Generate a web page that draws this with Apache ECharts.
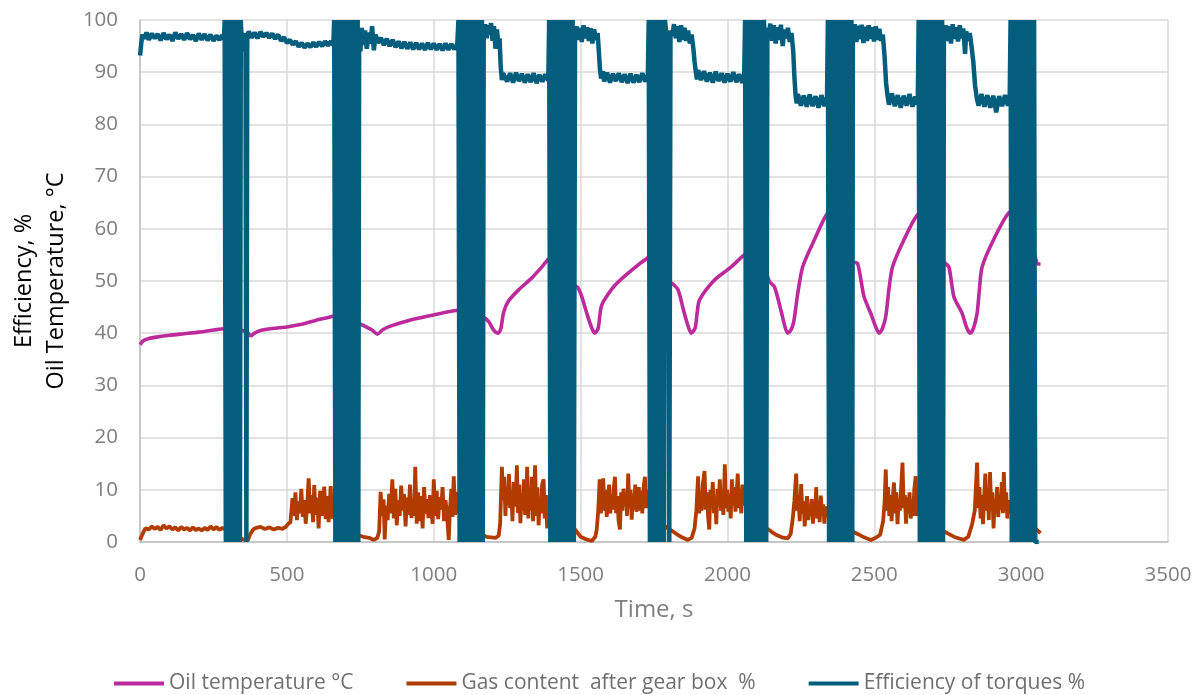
<!DOCTYPE html>
<html>
<head>
<meta charset="utf-8">
<title>Efficiency, oil temperature and gas content</title>
<script src="https://cdn.jsdelivr.net/npm/echarts@6/dist/echarts.min.js"></script>
<style>
    html, body { margin: 0; padding: 0; background: #fff; }
    #chart { width: 1199px; height: 695px; }
</style>
</head>
<body>
<div id="chart"></div>
<script>
// readings as [time s, value]
const oilTemp = [
    [0,37.8],[10,38.5],[25,38.9],[50,39.2],[100,39.6],[150,39.9],[200,40.2],[250,40.6],[288,40.9],[320,41.0],
    [350,40.5],[365,40.2],[377,39.5],[390,40.0],[410,40.5],[450,40.9],[500,41.2],[550,41.7],[600,42.5],[640,43.0],
    [661,43.3],[700,43.3],[735,42.2],[770,41.2],[790,40.6],[808,39.8],[825,40.6],[850,41.3],[900,42.2],[950,42.9],
    [1000,43.5],[1050,44.1],[1083,44.4],[1120,44.5],[1167,43.2],[1187,42.2],[1204,40.6],[1219,40.0],[1228,40.8],[1238,44.0],
    [1255,46.2],[1289,48.3],[1334,50.6],[1365,52.5],[1395,54.4],[1440,55.5],[1478,49.2],[1490,48.8],[1504,47.0],[1520,44.0],
    [1538,41.0],[1549,40.0],[1560,41.0],[1568,44.5],[1577,46.0],[1617,49.2],[1674,52.1],[1730,54.5],[1760,55.5],[1800,50.0],
    [1815,49.4],[1832,48.3],[1850,44.5],[1865,41.5],[1877,40.0],[1890,41.0],[1897,44.0],[1905,46.4],[1956,50.2],[2013,52.7],
    [2064,55.3],[2100,56.0],[2143,49.9],[2160,48.9],[2182,44.4],[2196,41.2],[2205,40.0],[2215,40.5],[2225,42.0],[2233,45.0],
    [2239,47.5],[2256,52.7],[2296,57.9],[2341,63.0],[2380,64.0],[2426,53.7],[2443,53.4],[2465,47.0],[2488,43.8],[2505,41.2],
    [2516,40.0],[2527,40.8],[2539,43.2],[2550,48.5],[2562,52.7],[2601,57.9],[2646,62.6],[2690,64.0],[2737,53.7],[2754,52.7],
    [2771,47.0],[2799,43.8],[2815,41.0],[2827,40.0],[2838,41.0],[2850,43.8],[2858,48.5],[2867,52.7],[2906,57.9],[2957,63.0],
    [3000,64.0],[3054,53.4],[3066,53.2]
];

const gasContent = [
    [0,0.4],[8,1.5],[18,2.6],[30,2.4],[40,3.0],[50,2.5],[60,2.9],[70,2.3],[80,3.2],[90,2.6],[100,3.0],[110,2.4],[120,2.8],
    [130,2.2],[140,2.9],[150,2.4],[160,2.7],[170,2.2],[180,2.8],[190,2.3],[200,2.6],[210,2.2],[220,2.7],[230,2.3],[240,3.0],
    [250,2.4],[260,2.9],[270,2.3],[280,2.7],[288,2.5],[320,1.5],[350,0.5],[367,0.3],[375,1.5],[385,2.4],[395,2.7],[410,2.9],
    [425,2.5],[440,2.8],[455,2.4],[470,2.7],[485,2.5],[496,2.9],[505,3.5],[512,3.8],
    [519,8.4],[524,5.0],[529,9.5],[534,4.2],[539,7.8],[544,5.5],[549,10.2],[554,4.8],[559,8.0],[564,3.5],[569,7.0],[574,12.2],
    [579,5.5],[584,9.0],[589,3.8],[593,10.9],[598,5.2],[603,8.5],[608,2.6],[613,9.8],[618,5.0],[623,7.6],[627,10.6],[632,4.4],
    [637,8.8],[642,3.8],[646,7.5],[649,10.7],[654,4.5],[658,6.5],[661,5.0],
    [700,3.0],[743,1.3],[760,1.0],[780,0.8],[796,0.4],[808,0.8],[814,2.0],
    [819,9.6],[824,5.0],[829,8.2],[833,0.5],[838,7.0],[843,4.2],[848,9.2],[853,5.5],[859,12.0],[864,4.5],[869,10.2],[874,3.2],
    [879,8.0],[884,5.0],[889,10.8],[894,6.0],[899,9.2],[904,3.0],[909,8.5],[914,5.2],[919,11.0],[924,4.6],[929,7.8],[933,5.0],
    [937,14.4],[942,3.5],[947,9.5],[952,4.0],[957,8.8],[962,2.6],[967,10.5],[972,5.4],[977,8.2],[982,4.6],[987,9.0],[992,6.0],
    [996,3.5],[1000,12.0],[1005,5.0],[1010,9.8],[1015,4.4],[1020,8.6],[1025,6.2],[1030,10.5],[1035,4.0],[1040,8.0],[1045,5.5],
    [1051,0.4],[1055,6.0],[1060,10.2],[1064,4.8],[1068,12.6],[1073,5.2],[1078,9.6],[1083,6.0],
    [1120,3.0],[1167,1.3],[1180,1.0],[1195,0.9],[1210,0.8],[1221,1.2],[1226,3.5],
    [1232,14.4],[1236,8.0],[1240,12.5],[1244,5.0],[1248,10.5],[1252,7.0],[1256,13.0],[1260,6.5],[1264,9.8],[1268,4.0],[1272,11.5],
    [1276,6.8],[1280,9.5],[1283,14.7],[1287,5.5],[1291,11.0],[1295,3.6],[1299,9.0],[1303,6.0],[1307,12.0],[1311,5.2],[1315,8.5],
    [1318,14.4],[1322,4.5],[1326,10.0],[1330,6.0],[1334,12.5],[1338,4.0],[1342,9.5],[1345,14.7],[1349,5.0],[1353,10.5],[1357,3.2],
    [1361,8.5],[1365,5.5],[1369,11.0],[1374,12.0],[1378,4.5],[1382,9.0],[1386,2.6],[1390,7.5],
    [1420,3.0],[1481,2.4],[1500,1.0],[1520,0.5],[1538,0.2],[1550,1.0],[1555,2.4],[1560,6.0],
    [1565,12.0],[1569,5.5],[1573,9.5],[1577,12.2],[1581,6.0],[1585,10.0],[1589,4.8],[1593,8.2],[1597,11.0],[1601,5.5],[1605,9.0],
    [1609,6.2],[1613,10.5],[1617,12.5],[1621,5.5],[1625,8.8],[1629,4.2],[1634,2.4],[1638,9.5],[1642,6.0],[1646,10.2],[1650,7.0],
    [1654,9.0],[1658,5.0],[1662,13.1],[1666,6.5],[1670,10.0],[1674,4.3],[1678,9.2],[1682,6.2],[1686,11.0],[1690,5.8],[1694,8.5],
    [1698,10.5],[1702,6.0],[1706,9.8],[1710,5.5],[1714,10.2],[1719,12.5],[1723,6.5],[1727,10.0],[1731,7.0],
    [1760,4.0],[1815,2.0],[1830,1.4],[1845,0.9],[1865,0.4],[1878,0.8],[1888,2.6],[1894,6.0],
    [1900,12.6],[1904,5.5],[1908,9.0],[1912,6.0],[1916,11.0],[1922,13.6],[1926,6.2],[1930,9.5],[1934,5.0],[1938,2.4],[1942,10.0],
    [1946,6.5],[1950,11.5],[1954,5.5],[1958,8.5],[1962,3.4],[1966,10.2],[1970,7.0],[1974,12.0],[1978,6.0],[1982,9.5],[1986,5.2],
    [1991,14.9],[1995,6.5],[1999,10.0],[2003,5.8],[2007,9.0],[2011,4.5],[2015,12.0],[2019,7.0],[2023,10.5],[2027,5.8],[2031,9.0],
    [2035,13.1],[2039,6.5],[2043,10.2],[2047,5.5],[2051,11.0],[2055,7.0],[2059,9.5],
    [2100,4.0],[2149,2.0],[2165,1.4],[2185,0.9],[2205,0.7],[2215,1.5],[2222,4.3],[2228,8.0],
    [2234,13.1],[2238,6.0],[2242,8.5],[2246,4.0],[2251,11.1],[2255,5.5],[2259,7.8],[2263,3.0],[2267,6.5],[2271,8.8],[2275,4.2],
    [2279,7.0],[2283,5.0],[2287,8.2],[2291,3.5],[2295,6.8],[2299,5.0],[2302,10.5],[2306,4.5],[2310,7.8],[2314,3.8],[2318,8.9],
    [2322,5.0],[2326,7.2],[2330,3.5],[2334,6.8],[2338,4.8],[2342,6.0],
    [2380,3.0],[2426,2.0],[2445,1.5],[2465,0.9],[2488,0.4],[2505,0.8],[2520,1.4],[2530,4.0],[2535,7.6],
    [2539,13.9],[2543,6.0],[2547,10.5],[2551,5.0],[2555,9.0],[2559,4.0],[2563,8.5],[2567,11.4],[2571,5.5],[2575,9.5],[2579,3.4],
    [2583,8.0],[2587,6.0],[2591,10.0],[2596,15.2],[2600,6.5],[2604,9.0],[2608,3.5],[2612,8.5],[2616,5.5],[2620,9.5],[2624,4.5],
    [2628,8.0],[2632,5.0],[2636,10.0],[2641,12.6],[2645,5.0],[2649,8.5],
    [2690,3.0],[2737,2.0],[2755,1.5],[2775,0.9],[2805,0.4],[2820,1.0],[2833,3.4],[2842,6.0],
    [2850,15.2],[2854,6.5],[2858,10.5],[2862,4.5],[2866,9.0],[2870,3.4],[2874,8.5],[2878,13.1],[2882,6.0],[2886,10.0],[2890,4.2],
    [2894,13.4],[2898,6.5],[2902,9.5],[2906,2.6],[2910,8.0],[2914,5.5],[2918,10.5],[2922,4.8],[2926,9.0],[2930,6.2],[2934,11.5],
    [2938,5.5],[2941,13.4],[2945,6.0],[2949,9.5],[2953,4.5],[2957,8.0],[2961,5.5],[2964,7.0],
    [3000,4.0],[3054,2.3],[3066,1.7]
];

// efficiency between the test runs
const effSteady = [
    [0,93.2],[4,95.5],[8,97.2],[14,96.4],[22,97.6],[30,96.2],[40,97.4],[50,96.5],[60,97.3],[70,96.1],[80,97.5],[90,96.3],
    [100,97.2],[110,96.0],[120,97.6],[130,96.4],[140,97.3],[150,96.2],[160,97.5],[170,96.3],[180,97.1],[190,96.0],[200,97.4],
    [210,96.2],[220,97.3],[230,96.1],[240,97.2],[250,96.0],[260,97.0],[270,96.2],[280,97.1],[286,96.3],
    [345,97.0],[350,94.0],[355,97.5],[359,96.5],[362,0],[365,97.0],[370,97.8],[380,96.6],[390,97.6],[400,96.5],[410,97.7],
    [420,96.8],[430,97.5],[440,96.6],[450,97.4],[460,96.4],[470,97.2],[480,96.0],[490,96.7],[500,95.6],[510,96.2],[520,95.3],
    [530,95.9],[540,94.9],[550,95.6],[560,94.7],[570,95.5],[580,94.8],[590,95.7],[600,94.9],[610,95.8],[620,95.0],[630,95.9],
    [640,95.1],[650,95.9],[658,95.2],
    [746,97.5],[750,94.0],[755,98.5],[760,95.2],[766,98.0],[772,94.5],[778,97.6],[785,95.5],[790,98.8],[796,94.2],[802,97.2],
    [810,95.6],[820,96.6],[830,95.2],[840,96.4],[850,95.0],[860,96.2],[870,94.8],[880,95.9],[890,94.6],[900,95.8],[910,94.5],
    [920,95.7],[930,94.4],[940,95.6],[950,94.4],[960,95.5],[970,94.3],[980,95.6],[990,94.4],[1000,95.5],[1010,94.3],[1020,95.4],
    [1030,94.2],[1040,95.5],[1050,94.3],[1060,95.4],[1070,94.4],[1080,95.3],
    [1170,97.0],[1175,99.2],[1180,96.5],[1185,99.0],[1190,97.2],[1195,99.4],[1200,96.0],[1205,98.8],[1210,94.5],[1215,98.2],
    [1220,95.5],[1224,96.5],[1228,91.0],[1232,88.5],[1236,89.8],[1240,90.0],[1250,88.2],[1260,89.8],[1270,88.0],[1280,89.9],
    [1290,88.3],[1300,89.7],[1310,88.0],[1320,89.6],[1330,88.1],[1340,89.8],[1350,87.9],[1360,89.5],[1370,88.2],[1380,89.6],
    [1390,88.4],
    [1481,96.0],[1486,98.8],[1492,96.2],[1498,98.5],[1504,95.8],[1510,99.0],[1516,96.5],[1522,98.6],[1528,96.0],[1534,98.4],
    [1540,95.5],[1546,98.2],[1552,96.2],[1558,97.5],[1562,94.0],[1566,90.5],[1570,88.8],[1576,90.2],[1580,88.2],[1590,89.9],
    [1600,88.0],[1610,89.7],[1620,88.3],[1630,89.8],[1640,88.1],[1650,89.6],[1660,87.9],[1670,89.7],[1680,88.0],[1690,89.5],
    [1700,88.1],[1710,89.8],[1720,88.2],[1729,89.5],
    [1792,97.5],[1798,96.8],[1802,0],[1806,98.0],[1812,97.0],[1818,99.2],[1824,96.5],[1830,98.8],[1836,95.8],[1842,99.0],
    [1848,96.2],[1854,98.5],[1860,96.0],[1866,98.0],[1872,95.5],[1878,97.2],[1884,94.5],[1888,92.0],[1892,90.2],[1896,88.6],
    [1900,90.4],[1910,88.5],[1920,90.2],[1930,88.2],[1940,89.9],[1950,88.0],[1960,90.1],[1970,88.3],[1980,89.8],[1990,88.0],
    [2000,89.7],[2010,88.2],[2020,90.0],[2030,88.1],[2040,89.6],[2050,88.0],[2057,89.4],
    [2127,97.0],[2132,0],[2136,98.5],[2140,97.0],[2146,99.3],[2152,96.0],[2158,99.0],[2164,95.5],[2170,98.6],[2176,96.2],
    [2182,99.1],[2188,95.0],[2194,98.2],[2200,96.5],[2206,98.5],[2212,95.8],[2218,97.5],[2224,94.0],[2228,89.0],[2232,85.5],
    [2236,84.0],[2240,85.8],[2250,83.6],[2260,85.5],[2270,83.4],[2280,85.7],[2290,83.5],[2300,85.4],[2310,83.2],[2320,85.6],
    [2330,83.5],[2339,85.2],
    [2427,96.5],[2433,99.2],[2439,95.8],[2445,98.9],[2451,96.3],[2457,99.1],[2463,95.6],[2469,98.7],[2475,96.0],[2481,99.0],
    [2487,96.4],[2493,98.6],[2499,95.9],[2505,98.8],[2511,96.2],[2517,98.3],[2523,96.0],[2529,97.2],[2535,93.0],[2540,88.0],
    [2545,85.5],[2550,83.8],[2560,85.9],[2570,83.5],[2580,85.6],[2590,83.2],[2600,85.5],[2610,83.6],[2620,85.8],[2630,83.4],
    [2640,85.3],[2648,83.8],
    [2737,96.8],[2743,99.0],[2749,96.0],[2755,98.8],[2761,95.5],[2767,99.2],[2773,96.4],[2779,98.6],[2785,95.9],[2791,99.0],
    [2797,96.5],[2803,98.4],[2809,93.5],[2813,97.8],[2819,96.0],[2825,97.5],[2831,95.0],[2837,92.0],[2843,87.5],[2849,85.0],
    [2855,83.6],[2865,85.8],[2875,83.4],[2885,85.6],[2895,83.2],[2905,85.5],[2915,82.3],[2925,85.4],[2935,83.5],[2945,85.6],
    [2955,83.6],[2961,85.0],
    [3060,0]
];

// efficiency during the runs, swinging between 0 and 100
const effBands = [
    [288,100],[292,0],[296,100],[300,0],[304,100],[308,0],[312,100],[316,0],[320,100],[324,0],[328,100],[332,0],[336,100],[340,0],[343,100],
    [661,100],[665,0],[669,100],[673,0],[677,100],[681,0],[685,100],[689,0],[693,100],[697,0],[701,100],[705,0],[709,100],[713,0],
    [717,100],[721,0],[725,100],[729,0],[733,100],[737,0],[741,100],[743,0],
    [1084,100],[1088,0],[1092,100],[1096,0],[1100,100],[1104,0],[1108,100],[1112,0],[1116,100],[1120,0],[1124,100],[1128,0],
    [1132,100],[1136,0],[1140,100],[1144,0],[1148,100],[1152,0],[1156,100],[1160,0],[1164,100],[1167,0],
    [1393,100],[1397,0],[1401,100],[1405,0],[1409,100],[1413,0],[1417,100],[1421,0],[1425,100],[1429,0],[1433,100],[1437,0],
    [1441,100],[1445,0],[1449,100],[1453,0],[1457,100],[1461,0],[1465,100],[1469,0],[1473,100],[1477,0],
    [1732,100],[1736,0],[1740,100],[1744,0],[1748,100],[1752,0],[1756,100],[1760,0],[1764,100],[1768,0],[1772,100],[1776,0],
    [1780,100],[1784,0],[1787,100],
    [2060,100],[2064,0],[2068,100],[2072,0],[2076,100],[2080,0],[2084,100],[2088,0],[2092,100],[2096,0],[2100,100],[2104,0],
    [2108,100],[2112,0],[2116,100],[2120,0],[2124,100],
    [2342,100],[2346,0],[2350,100],[2354,0],[2358,100],[2362,0],[2366,100],[2370,0],[2374,100],[2378,0],[2382,100],[2386,0],
    [2390,100],[2394,0],[2398,100],[2402,0],[2406,100],[2410,0],[2414,100],[2418,0],[2422,100],[2425,0],
    [2651,100],[2655,0],[2659,100],[2663,0],[2667,100],[2671,0],[2675,100],[2679,0],[2683,100],[2687,0],[2691,100],[2695,0],
    [2699,100],[2703,0],[2707,100],[2711,0],[2715,100],[2719,0],[2723,100],[2727,0],[2731,100],[2734,0],
    [2964,100],[2968,0],[2972,100],[2976,0],[2980,100],[2984,0],[2988,100],[2992,0],[2996,100],[3000,0],[3004,100],[3008,0],
    [3012,100],[3016,0],[3020,100],[3024,0],[3028,100],[3032,0],[3036,100],[3040,0],[3044,100],[3048,0]
];

const seriesNames = ["Oil temperature °C", "Gas content  after gear box  %", "Efficiency of torques %"];
const seriesColors = ["#BC2A9C", "#B23C00", "#035E7E"];

// merge the two parts of the efficiency record in time order
const efficiency = effSteady.concat(effBands).sort((a, b) => a[0] - b[0]);

const fontName = "Open Sans";
const grey = "#7f7f7f";

let chart = echarts.init(document.getElementById("chart"));

let option = {
    animation: false,
    backgroundColor: "#fff",
    grid: { left: 137, right: 31, top: 20, bottom: 153, containLabel: false },
    legend: {
        bottom: 1,
        left: "center",
        padding: 0,
        icon: "rect",
        itemWidth: 50,
        itemHeight: 4,
        itemGap: 53,
        textStyle: { fontFamily: fontName, fontSize: 21, color: "#6f6f6f" },
        data: seriesNames
    },
    xAxis: {
        type: "value",
        min: 0,
        max: 3500,
        interval: 500,
        name: "Time, s",
        nameLocation: "middle",
        nameGap: 56,
        nameTextStyle: { fontFamily: fontName, fontSize: 24, color: grey },
        axisLine: { show: true, lineStyle: { color: "#bfbfbf", width: 1.5 } },
        axisTick: { show: false },
        axisLabel: {
            margin: 23,
            fontFamily: fontName,
            fontSize: 20.5,
            color: grey,
            formatter: v => String(v)
        },
        splitLine: { show: true, lineStyle: { color: "#d9d9d9", width: 1.5 } }
    },
    yAxis: {
        type: "value",
        min: 0,
        max: 100,
        interval: 10,
        name: "Efficiency, %\nOil Temperature, °C",
        nameLocation: "middle",
        nameGap: 65,
        nameTextStyle: { fontFamily: fontName, fontSize: 23.5, color: "#000", lineHeight: 32 },
        axisLine: { show: true, lineStyle: { color: "#bfbfbf", width: 1.5 } },
        axisTick: { show: false },
        axisLabel: { margin: 22, fontFamily: fontName, fontSize: 20.5, color: grey },
        splitLine: { show: true, lineStyle: { color: "#d9d9d9", width: 1.5 } }
    },
    series: [
        {
            name: seriesNames[0],
            type: "line",
            data: oilTemp,
            symbol: "none",
            smooth: 0.25,
            color: seriesColors[0],
            lineStyle: { width: 3.6 }
        },
        {
            name: seriesNames[1],
            type: "line",
            data: gasContent,
            symbol: "none",
            color: seriesColors[1],
            lineStyle: { width: 3.8 }
        },
        {
            name: seriesNames[2],
            type: "line",
            data: efficiency,
            symbol: "none",
            color: seriesColors[2],
            lineStyle: { width: 4.5 }
        }
    ]
};

chart.setOption(option);
</script>
</body>
</html>
